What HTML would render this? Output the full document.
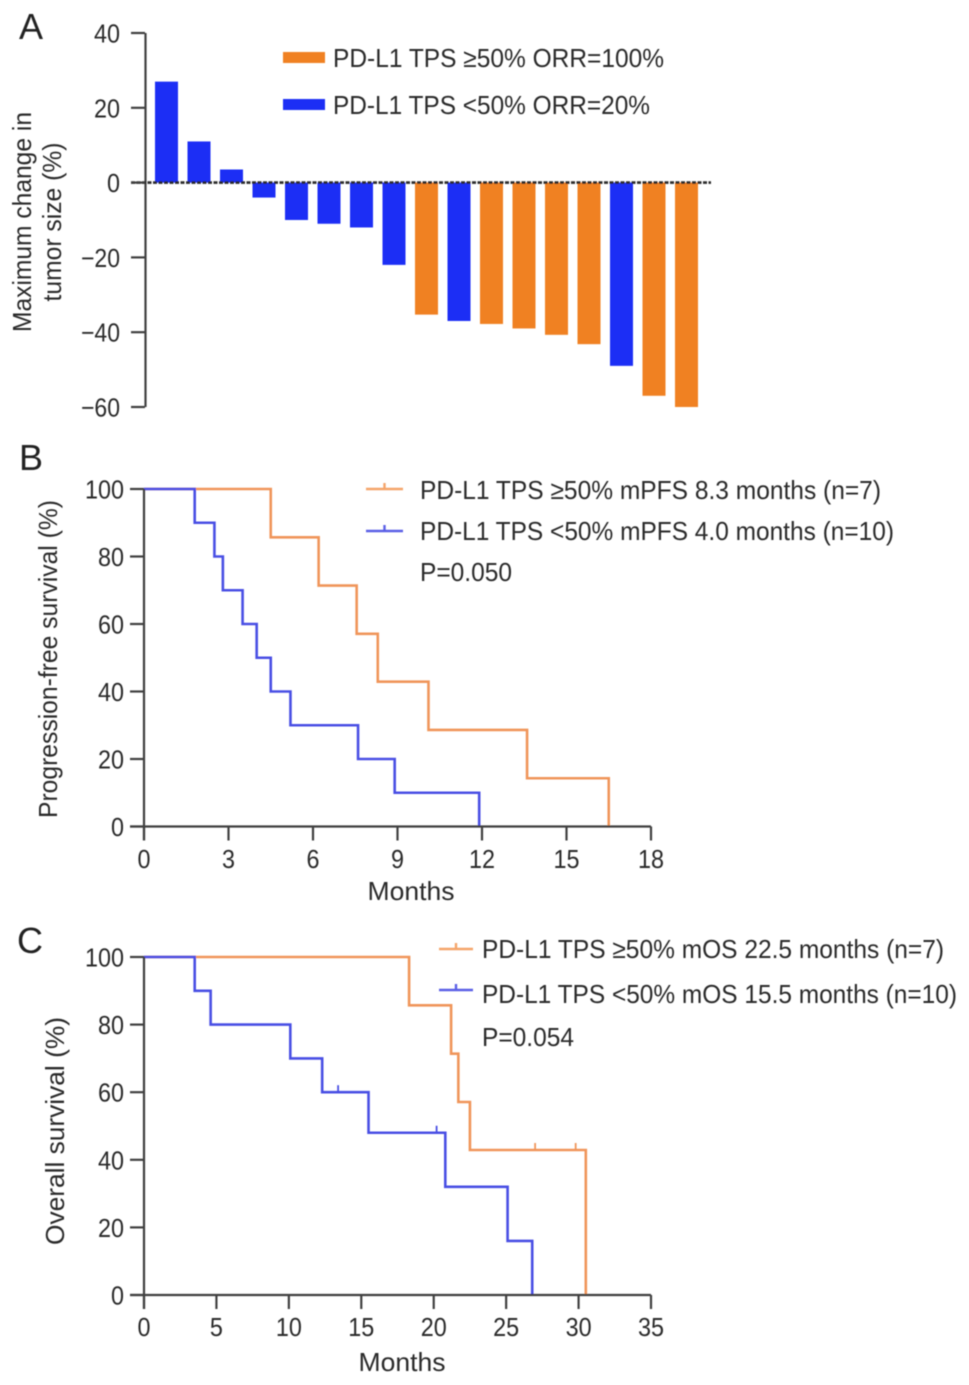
<!DOCTYPE html>
<html lang="en">
<head>
<meta charset="utf-8">
<title>PD-L1 TPS tumor response and survival</title>
<style>
  html, body { margin: 0; padding: 0; background: #fff; }
  svg { display: block; }
  text { font-family: "Liberation Sans", sans-serif; fill: #2b2b2b; font-size: 26px; }
  .panel { font-size: 36px; fill: #222; }
  .tick-y { text-anchor: end; }
  .tick-x { text-anchor: middle; }
</style>
</head>
<body>
<svg id="fig" xmlns="http://www.w3.org/2000/svg" width="969" height="1385" viewBox="0 0 969 1385">
  <defs><filter id="soft" x="-5%" y="-5%" width="110%" height="110%"><feGaussianBlur stdDeviation="0.6"/></filter></defs>
  <g id="root" filter="url(#soft)">
    <text class="panel" x="19" y="39">A</text>
    <text class="panel" x="19" y="470">B</text>
    <text class="panel" x="17" y="953">C</text>

    <text transform="translate(31,222) rotate(-90)" text-anchor="middle" textLength="220" lengthAdjust="spacingAndGlyphs">Maximum change in</text>
    <text transform="translate(61,222) rotate(-90)" text-anchor="middle" textLength="159" lengthAdjust="spacingAndGlyphs">tumor size (%)</text>
    <text transform="translate(57,659) rotate(-90)" text-anchor="middle" textLength="318" lengthAdjust="spacingAndGlyphs">Progression-free survival (%)</text>
    <text transform="translate(64,1131) rotate(-90)" text-anchor="middle" textLength="228" lengthAdjust="spacingAndGlyphs">Overall survival (%)</text>
    <text x="411" y="900" text-anchor="middle" textLength="87" lengthAdjust="spacingAndGlyphs">Months</text>
    <text x="402" y="1371" text-anchor="middle" textLength="87" lengthAdjust="spacingAndGlyphs">Months</text>

    <rect x="283" y="52" width="42" height="11" fill="#f08122"/>
    <rect x="283" y="99" width="42" height="11" fill="#1a2ff5"/>
    <text x="333" y="67" textLength="331" lengthAdjust="spacingAndGlyphs">PD-L1 TPS ≥50% ORR=100%</text>
    <text x="333" y="114" textLength="317" lengthAdjust="spacingAndGlyphs">PD-L1 TPS &lt;50% ORR=20%</text>

    <path d="M366 489H403M384.500 489V483" stroke="#f4a46a" stroke-width="2.400" fill="none"/>
    <path d="M366 531H403M384.500 531V525" stroke="#5a5fe6" stroke-width="2.400" fill="none"/>
    <text x="420" y="499" textLength="461" lengthAdjust="spacingAndGlyphs">PD-L1 TPS ≥50% mPFS 8.3 months (n=7)</text>
    <text x="420" y="540" textLength="474" lengthAdjust="spacingAndGlyphs">PD-L1 TPS &lt;50% mPFS 4.0 months (n=10)</text>
    <text x="420" y="581" textLength="92" lengthAdjust="spacingAndGlyphs">P=0.050</text>

    <path d="M439 949H473M456 949V943" stroke="#f4a46a" stroke-width="2.400" fill="none"/>
    <path d="M439 990H473M456 990V984" stroke="#5a5fe6" stroke-width="2.400" fill="none"/>
    <text x="482" y="958" textLength="462" lengthAdjust="spacingAndGlyphs">PD-L1 TPS ≥50% mOS 22.5 months (n=7)</text>
    <text x="482" y="1003" textLength="475" lengthAdjust="spacingAndGlyphs">PD-L1 TPS &lt;50% mOS 15.5 months (n=10)</text>
    <text x="482" y="1046" textLength="92" lengthAdjust="spacingAndGlyphs">P=0.054</text>
  </g>
</svg>
<script>
// Panel A: waterfall
const waterfallValues = [27, 11, 3.5, -4, -10, -11, -12, -22, -35.3, -37, -37.8, -39, -40.7, -43.2, -49, -57, -60];
const waterfallGroups = ['low','low','low','low','low','low','low','low','high','low','high','high','high','high','low','high','high'];
const waterfallTicks = [40, 20, 0, -20, -40, -60];

// Panel B: progression-free survival
const pfsHighMonths = [0, 4.5, 6.2, 7.55, 8.3, 10.1, 13.6, 16.5];
const pfsHighSurvival = [100, 85.7, 71.4, 57.1, 42.9, 28.6, 14.3, 0];
const pfsLowMonths = [0, 1.8, 2.5, 2.8, 3.5, 4.0, 4.5, 5.2, 7.6, 8.9, 11.9];
const pfsLowSurvival = [100, 90, 80, 70, 60, 50, 40, 30, 20, 10, 0];
const pfsXTicks = [0, 3, 6, 9, 12, 15, 18];

// Panel C: overall survival
const osHighMonths = [0, 18.3, 21.2, 21.7, 22.5, 30.5];
const osHighSurvival = [100, 85.7, 71.4, 57.1, 42.9, 0];
const osHighCensored = [27, 29.8];
const osLowMonths = [0, 3.5, 4.6, 10.1, 12.3, 15.5, 20.8, 25.1, 26.8];
const osLowSurvival = [100, 90, 80, 70, 60, 48, 32, 16, 0];
const osLowCensored = [13.4, 20.2];
const osXTicks = [0, 5, 10, 15, 20, 25, 30, 35];

const survivalTicks = [0, 20, 40, 60, 80, 100];

const NS = 'http://www.w3.org/2000/svg';
const root = document.getElementById('root');
const AXIS = '#404040', ORANGE = '#f08122', BLUE = '#1a2ff5', KM_ORANGE = '#f0955a', KM_BLUE = '#4a4fe4';
const DIGIT_WIDTH = 13;

function shape(tag, props, text) {
  const el = document.createElementNS(NS, tag);
  for (const k in props) el.setAttribute(k, props[k]);
  if (text !== undefined) el.textContent = text;
  root.appendChild(el);
  return el;
}

// Waterfall scales
const waterY = v => 182.6 - v * 3.74;
const waterX = i => 166.5 + i * 32.5;

waterfallValues.forEach((v, i) => {
  const y0 = waterY(0), y1 = waterY(v);
  const bar = shape('rect', { x: waterX(i) - 11.5, y: Math.min(y0, y1), width: 23, height: Math.abs(y1 - y0), fill: waterfallGroups[i] === 'high' ? ORANGE : BLUE });
  
  
});

const waterAxis = shape('path', { d: 'M145.500 ' + waterY(40) + 'V' + waterY(-60), stroke: AXIS, 'stroke-width': 2.2, fill: 'none' });



const zeroLine = shape('path', { d: 'M131 ' + waterY(0) + 'H711', stroke: '#2a2a2a', 'stroke-width': 2.6, 'stroke-dasharray': '4 1.5', fill: 'none' });



waterfallTicks.forEach(t => {
  const tick = shape('path', { d: 'M131 ' + waterY(t) + 'H145', stroke: AXIS, 'stroke-width': 2.2 });
  
  
  const text = t < 0 ? '\u2212' + Math.abs(t) : String(t);
  const label = shape('text', { class: 'tick-y', x: 120, y: waterY(t) + 9.5, textLength: (t < 0 ? 13 : 0) + String(Math.abs(t)).length * DIGIT_WIDTH, lengthAdjust: 'spacingAndGlyphs' }, text);
  
  
});

// Kaplan-Meier panels
function stepPath(months, survival, x, y) {
  let d = 'M' + x(months[0]) + ' ' + y(survival[0]);
  for (let i = 1; i < months.length; i++) {
    d += 'H' + x(months[i]) + 'V' + y(survival[i]);
  }
  return d;
}

function survivalAt(months, survival, m) {
  let s = survival[0];
  for (let i = 0; i < months.length; i++) if (months[i] <= m) s = survival[i];
  return s;
}

function drawSurvivalPanel(key, top, bottom, xTicks, labelBaseline, labelRight, high, low) {
  const x = m => 144 + (m / xTicks[xTicks.length - 1]) * 507;
  const y = s => bottom - (s / 100) * (bottom - top);

  const curves = [[high, KM_ORANGE, 'high'], [low, KM_BLUE, 'low']];
  curves.forEach(c => {
    const series = c[0];
    const line = shape('path', { d: stepPath(series.months, series.survival, x, y), stroke: c[1], 'stroke-width': 2.6, fill: 'none' });
    
    
    series.censored.forEach(m => {
      const py = y(survivalAt(series.months, series.survival, m));
      const mark = shape('path', { d: 'M' + x(m) + ' ' + py + 'V' + (py - 7), stroke: c[1], 'stroke-width': 1.8 });
      
      
    });
  });

  const axes = shape('path', { d: 'M144 ' + top + 'V' + (bottom + 14) + 'M130 ' + bottom + 'H651', stroke: AXIS, 'stroke-width': 2.2, fill: 'none' });
  
  

  survivalTicks.forEach(t => {
    const tick = shape('path', { d: 'M130 ' + y(t) + 'H144', stroke: AXIS, 'stroke-width': 2.2 });
    
    
    const label = shape('text', { class: 'tick-y', x: labelRight, y: y(t) + 9.5, textLength: String(t).length * DIGIT_WIDTH, lengthAdjust: 'spacingAndGlyphs' }, String(t));
    
    
  });

  xTicks.forEach(t => {
    const tick = shape('path', { d: 'M' + x(t) + ' ' + bottom + 'V' + (bottom + 14), stroke: AXIS, 'stroke-width': 2.2 });
    
    
    const label = shape('text', { class: 'tick-x', x: x(t), y: labelBaseline, textLength: String(t).length * DIGIT_WIDTH, lengthAdjust: 'spacingAndGlyphs' }, String(t));
    
    
  });
}

drawSurvivalPanel('b', 489, 826.500, pfsXTicks, 868, 124,
  { months: pfsHighMonths, survival: pfsHighSurvival, censored: [] },
  { months: pfsLowMonths, survival: pfsLowSurvival, censored: [] });

drawSurvivalPanel('c', 957, 1295, osXTicks, 1336, 124,
  { months: osHighMonths, survival: osHighSurvival, censored: osHighCensored },
  { months: osLowMonths, survival: osLowSurvival, censored: osLowCensored });
</script>
</body>
</html>
